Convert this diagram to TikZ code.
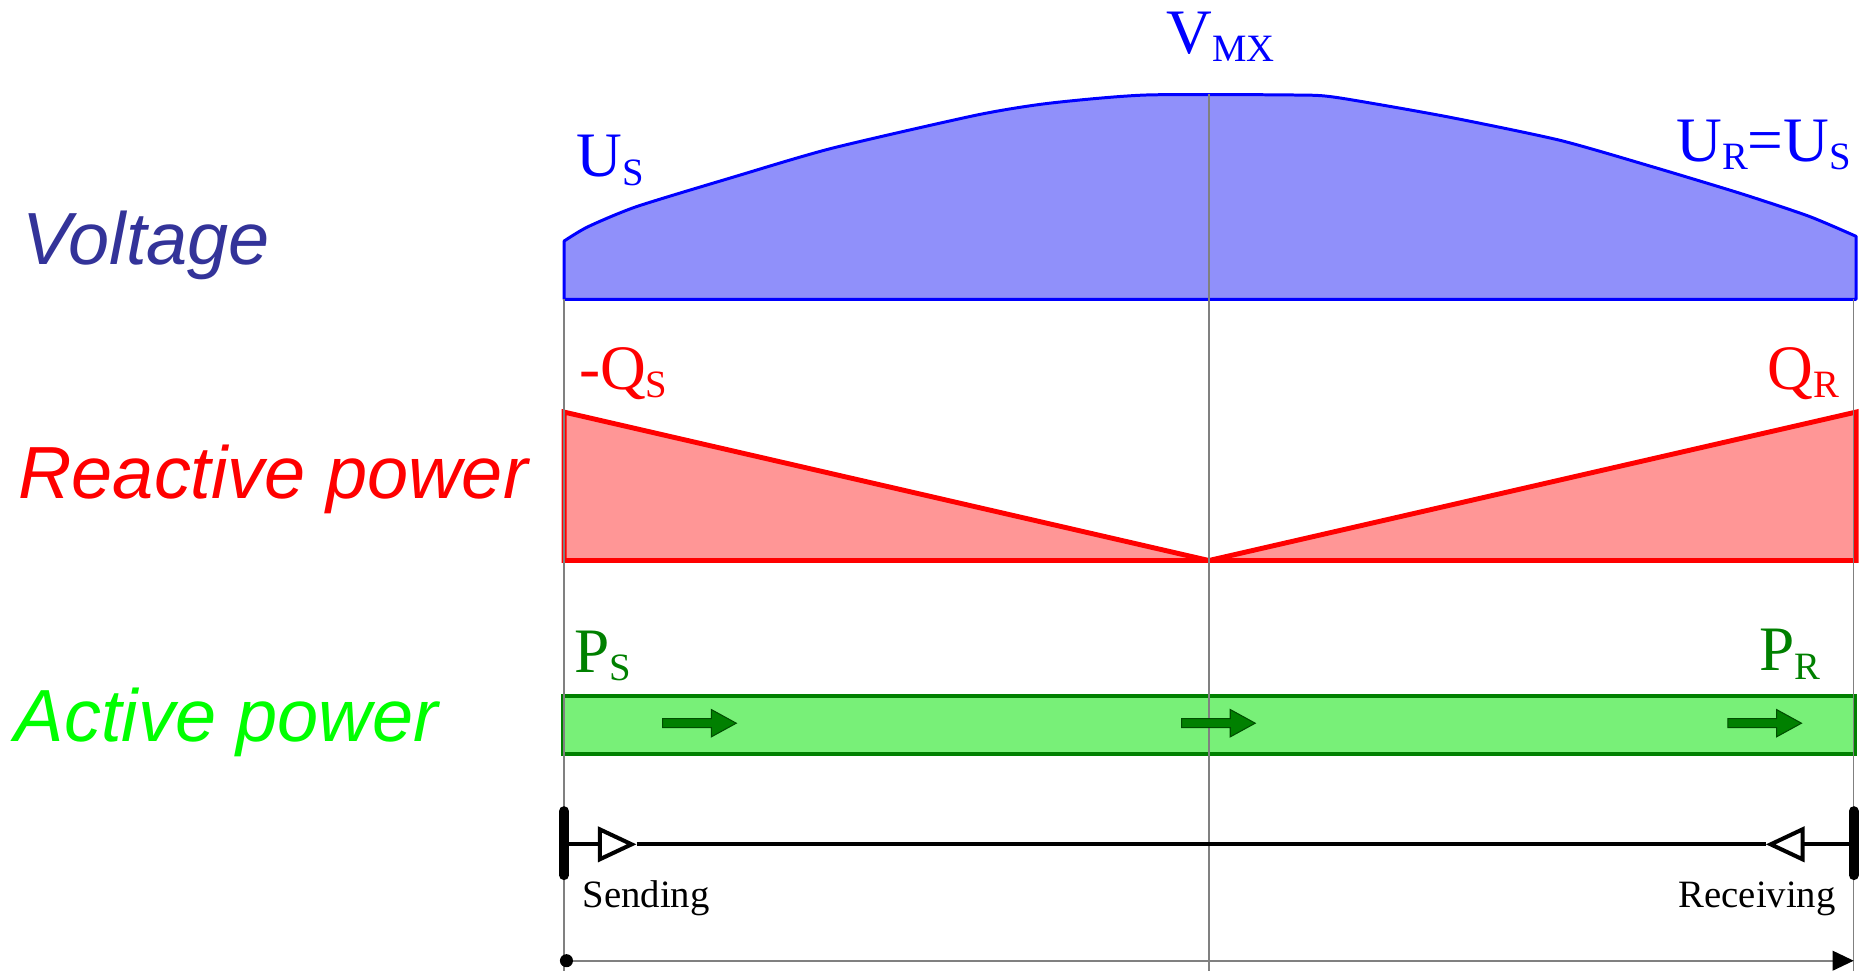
\documentclass[tikz,border=0pt]{standalone}
\usepackage{fontspec}
\setmainfont{Liberation Serif}
\newfontfamily\labelfont{Liberation Sans}
\usepackage{tikz}
\usepackage{xcolor}
\usetikzlibrary{arrows.meta,positioning,calc}
\definecolor{vtext}{HTML}{333399}
\definecolor{vblue}{HTML}{0000FF}
\definecolor{vfill}{HTML}{9090FA}
\definecolor{qred}{HTML}{FF0000}
\definecolor{qfill}{HTML}{FF9696}
\definecolor{pbright}{HTML}{00FF00}
\definecolor{pdark}{HTML}{008000}
\definecolor{pfill}{HTML}{78F078}
\definecolor{guidegray}{HTML}{808080}
\newcommand{\lsub}[1]{\raisebox{-2.3pt}{\fontsize{11pt}{11pt}\selectfont #1}}
\tikzset{
  rowlabel/.style={font={\labelfont\itshape\fontsize{21pt}{25pt}\selectfont},
                   anchor=base west, inner sep=0pt},
  quantity/.style={font={\fontsize{18pt}{21pt}\selectfont}, anchor=base west, inner sep=0pt},
  endlabel/.style={font={\fontsize{11pt}{13pt}\selectfont}, anchor=base west, inner sep=0pt},
  guide/.style={draw=guidegray, line width=0.4pt},
  vshape/.style={draw=vblue, fill=vfill, line width=0.85pt, line join=round},
  qshape/.style={draw=qred, fill=qfill, line width=1.4pt},
  pbar/.style={draw=pdark, fill=pfill, line width=1.15pt},
  parrow/.style={fill=pdark, draw=black!40!pdark, line width=0.3pt},
  busline/.style={draw=black, line width=1.15pt},
  endbar/.style={draw=black, line width=2.8pt, line cap=round},
  axisline/.style={draw=guidegray, line width=0.5pt}
}

\begin{document}
\begin{tikzpicture}[x=0.3375pt,y=-0.3375pt]
  \useasboundingbox (0,0) rectangle (1568,818);
  \fill[white] (0,0) rectangle (1568,818);
  % row labels
  \node[rowlabel,text=vtext] (voltlbl) at (18,223) {Voltage};
  \node[rowlabel,text=qred] (reactlbl) at (15,420) {Reactive power};
  \node[rowlabel,text=pbright] (activelbl) at (12,624) {Active power};
  % voltage profile
  \draw[vshape] (475,252) -- plot[smooth,tension=0.4] coordinates {(475,203) (495,191) (536,174)
      (618,149) (700,125) (822,97) (883,87) (965,80) (1090,80) (1125,82) (1217,98) (1313,118)
      (1390,140) (1466,163) (1523,182) (1563,199)} -- (1563,252) -- cycle;
  % reactive power
  \draw[qshape] (475,347) -- (1018,472) -- (475,472) -- cycle;
  \draw[qshape] (1018,472) -- (1563,347) -- (1563,472) -- cycle;
  % active power
  \draw[pbar] (474,586) rectangle (1562,635);
  % guides
  \coordinate (gl0) at (475,252); \coordinate (gl1) at (475,818);
  \coordinate (gc0) at (1018,79); \coordinate (gc1) at (1018,818);
  \coordinate (gr0) at (1561,252); \coordinate (gr1) at (1561,818);
  \draw[guide] (gl0) -- (gl1);
  \draw[guide] (gc0) -- (gc1);
  \draw[guide] (gr0) -- (gr1);
  \foreach \ax in {558,995,1455}
    \filldraw[parrow] (\ax,605.2) -- ++(41,0) -- ++(0,-7.7) -- ++(21,11.5) -- ++(-21,11.5)
      -- ++(0,-7.7) -- ++(-41,0) -- cycle;
  % quantities
  \node[quantity,text=vblue] (vmx) at (982,45) {V\lsub{MX}};
  \node[quantity,text=vblue] (us) at (485,149) {U\lsub{S}};
  \node[quantity,text=vblue] (urus) at (1411,136) {U\lsub{R}=U\lsub{S}};
  \node[quantity,text=qred] (qs) at (487,328) {-Q\lsub{S}};
  \node[quantity,text=qred] (qr) at (1488,328) {Q\lsub{R}};
  \node[quantity,text=pdark] (ps) at (483,566) {P\lsub{S}};
  \node[quantity,text=pdark] (pr) at (1481,565) {P\lsub{R}};
  % line between the two ends
  \coordinate (snd) at (475,711);
  \coordinate (sndtip) at (536,711);
  \coordinate (rcv) at (1561,711);
  \coordinate (rcvtip) at (1487,711);
  \draw[busline,-{Triangle[open,length=11pt,width=10pt]}] (snd) -- (sndtip);
  \draw[busline] (sndtip) -- (rcvtip);
  \draw[busline,-{Triangle[open,length=11pt,width=10pt]}] (rcv) -- (rcvtip);
  \draw[endbar] (475,683) -- (475,737);
  \draw[endbar] (1561,683) -- (1561,737);
  \node[endlabel] (sendlbl) at (490,764) {Sending};
  \node[endlabel] (recvlbl) at (1413,764) {Receiving};
  % distance axis
  \coordinate (ax0) at (477,809);
  \coordinate (ax1) at (1561,809);
  \draw[axisline,-{Triangle[length=6pt,width=5.6pt,color=black]}] (ax0) -- (ax1);
  \fill (ax0) circle (5.5);
\end{tikzpicture}
\end{document}
